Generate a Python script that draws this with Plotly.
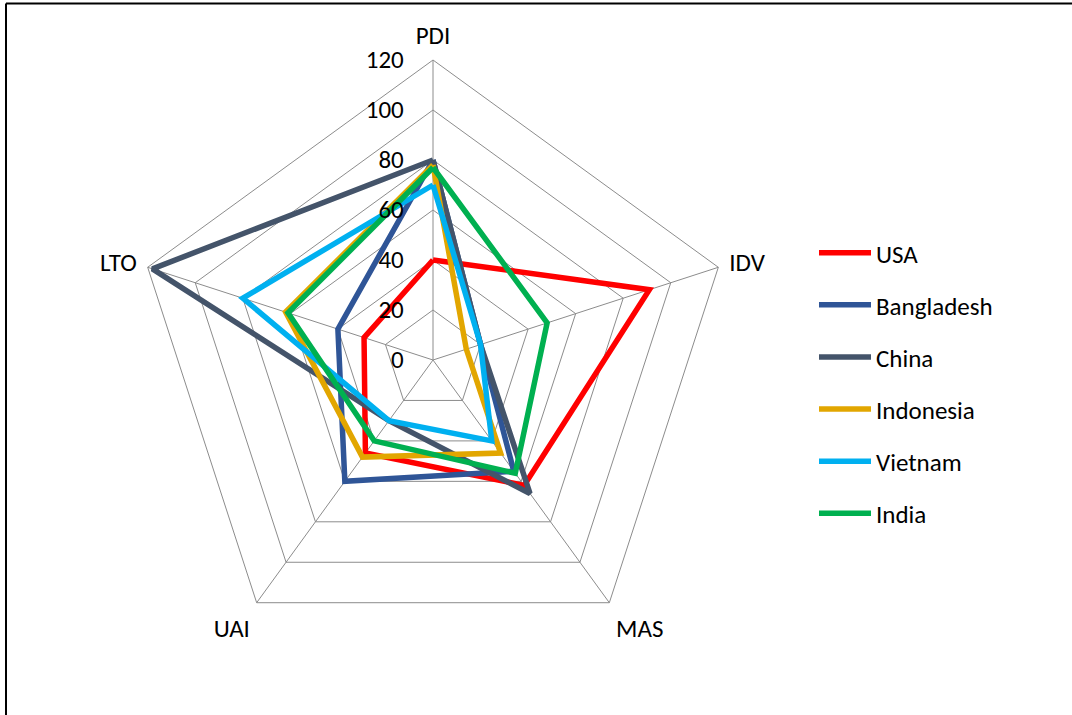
import plotly.graph_objects as go

dimensions = ["PDI", "IDV", "MAS", "UAI", "LTO"]
countries = ["USA", "Bangladesh", "China", "Indonesia", "Vietnam", "India"]
usa = [40, 91, 62, 46, 29]
bangladesh = [80, 20, 55, 60, 40]
china = [80, 20, 66, 30, 118]
indonesia = [78, 14, 46, 48, 62]
vietnam = [70, 20, 40, 30, 80]
india = [77, 48, 56, 40, 61]
series = [usa, bangladesh, china, indonesia, vietnam, india]
colors = ["#FF0000", "#2F5597", "#44546A", "#E2A600", "#00B0F0", "#00B050"]
radial_ticks = [0, 20, 40, 60, 80, 100, 120]

W, H = 1072, 715
FONT = "Carlito, Calibri, Lato, sans-serif"
FS = 25

fig = go.Figure()
for i, (name, vals, col) in enumerate(zip(countries, series, colors)):
    fig.add_trace(go.Scatterpolar(
        r=vals + vals[:1],
        theta=dimensions + dimensions[:1],
        mode="lines",
        name=name,
        line=dict(color=col, width=5.5),
        legendgroup=name,
    ))

cx, cy, R = 433, 360, 300
fig.update_layout(
    width=W, height=H,
    margin=dict(l=0, r=0, t=0, b=0),
    paper_bgcolor="white",
    plot_bgcolor="white",
    font=dict(family=FONT, size=FS, color="black"),
    polar=dict(
        domain=dict(x=[(cx - R) / W, (cx + R) / W], y=[1 - (cy + R) / H, 1 - (cy - R) / H]),
        gridshape="linear",
        bgcolor="white",
        radialaxis=dict(
            range=[0, 120],
            tickvals=radial_ticks,
            ticktext=[str(t) for t in radial_ticks],
            angle=90,
            tickangle=90,
            side="counterclockwise",
            showline=False,
            ticks="outside",
            ticklen=20,
            tickcolor="rgba(0,0,0,0)",
            gridcolor="#8C8C8C",
            gridwidth=1,
            tickfont=dict(family=FONT, size=FS, color="black"),
        ),
        angularaxis=dict(
            direction="clockwise",
            rotation=90,
            showline=True,
            linecolor="#8C8C8C",
            linewidth=1,
            gridcolor="#8C8C8C",
            gridwidth=1,
            ticks="outside",
            ticklen=6,
            tickcolor="rgba(0,0,0,0)",
            tickfont=dict(family=FONT, size=FS, color="black"),
        ),
    ),
    legend=dict(
        x=814 / W, y=1 - 230 / H,
        xanchor="left", yanchor="top",
        tracegroupgap=16.6,
        itemwidth=52,
        font=dict(family=FONT, size=FS, color="black"),
        bgcolor="rgba(0,0,0,0)",
    ),
    showlegend=True,
)

fig.add_shape(type="line", xref="paper", yref="paper",
              x0=6 / W, x1=6 / W, y0=0, y1=1 - 3.5 / H,
              line=dict(color="black", width=2))
fig.add_shape(type="line", xref="paper", yref="paper",
              x0=6 / W, x1=1, y0=1 - 3.5 / H, y1=1 - 3.5 / H,
              line=dict(color="black", width=2))

fig.write_html("out.html", config={"displayModeBar": False},
               post_script="document.body.style.margin='0';document.body.style.padding='0';")
